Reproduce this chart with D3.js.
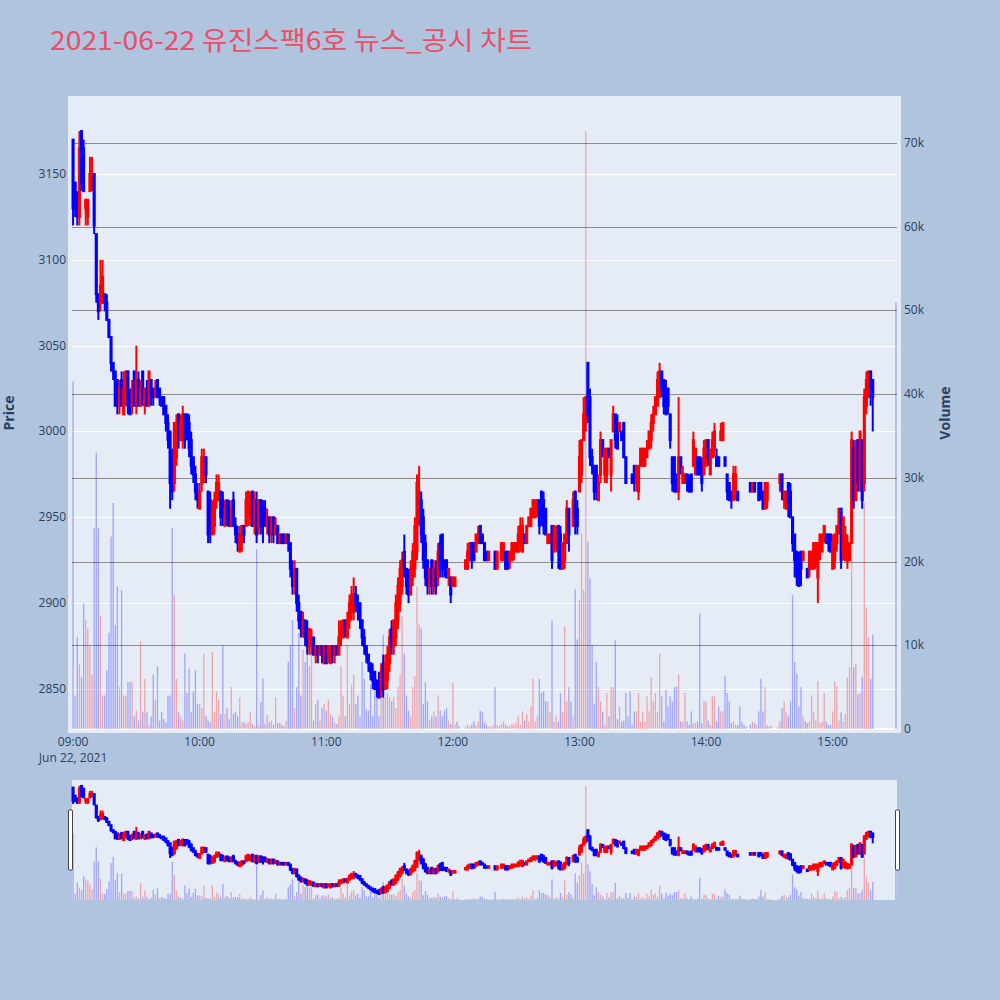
<!DOCTYPE html>
<html><head><meta charset="utf-8">
<script src="https://cdn.jsdelivr.net/npm/d3@7"></script>
<style>body{margin:0;background:#B0C4DE;}svg{display:block}</style>
</head><body>
<svg id="chart" width="1000" height="1000"></svg>
<script>
const chartTitle = "2021-06-22 유진스팩6호 뉴스_공시 차트";
const priceTicks = [2850, 2900, 2950, 3000, 3050, 3100, 3150];
const volumeTicks = [0, 10000, 20000, 30000, 40000, 50000, 60000, 70000];
const hourTicks = ["09:00", "10:00", "11:00", "12:00", "13:00", "14:00", "15:00"];
const dateLabel = "Jun 22, 2021";
// one entry per minute from 09:00 to 15:19, then the 15:30 closing auction
const opens = [
3170,3145,3135,3125,3175,3165,3130,3125,3140,3145, 3150,3115,3080,3075,3075,3080,3075,3065,3055,3040,
3035,3030,3015,3030,3010,3020,3035,3020,3015,3035, 3015,3030,3015,3035,3015,3025,3015,3030,3025,3020,
3030,3025,3020,3020,3015,3005,3000,2985,2970,2985, 3010,2995,2995,3010,3010,3005,2995,2985,2975,2965,
2955,2970,2975,2985,2965,2960,2940,2945,2960,2960, 2965,2960,2945,2960,2955,2945,2960,2945,2940,2930,
2935,2945,2945,2950,2950,2965,2945,2960,2945,2960, 2955,2955,2945,2950,2940,2950,2940,2945,2935,2940,
2940,2935,2940,2935,2920,2910,2920,2900,2895,2885, 2890,2885,2875,2875,2880,2870,2875,2870,2875,2865,
2875,2870,2865,2875,2870,2875,2870,2880,2880,2890, 2880,2890,2895,2895,2905,2900,2900,2890,2880,2875,
2870,2865,2860,2860,2855,2855,2850,2865,2850,2855, 2865,2885,2875,2880,2890,2900,2910,2930,2920,2915,
2905,2915,2920,2930,2950,2960,2950,2935,2925,2910, 2925,2910,2920,2915,2935,2940,2925,2925,2915,2915,
2910,2910,2910,2910,null,null,2920,2920,2925,2935, 2935,2930,2935,2945,2940,2935,2930,2925,2930,2930,
2930,2920,2930,2925,2925,2930,2930,2925,2925,2930, 2930,2930,2935,2930,2940,2935,2945,2945,2950,2950,
2955,2960,2965,2960,2955,2935,2935,2945,2930,2935, 2945,2940,2920,2925,2935,2955,2940,2945,2965,2955,
2965,2975,2995,3005,3040,3020,2985,2980,2980,2960, 2975,2995,2975,2975,2990,2975,3000,3010,3005,3000,
3000,3005,2985,2970,2970,2975,2980,2970,2965,2980, 2980,2980,2985,2990,2995,3005,3010,3015,3020,3035,
3030,3025,3025,3010,2985,2985,2975,2965,2985,2970, 2970,2975,2970,2975,2980,2975,2985,2985,2980,2975,
2980,2995,2975,2985,2990,2985,2985,2995,2995,2985, 2975,2970,2965,2960,2965,2965,2960,2960,2960,2960,
null,2970,2965,2970,2970,2970,2970,2965,2955,2960, 2970,2970,null,null,2975,2970,2975,2960,2955,2970,
2965,2950,2940,2930,2925,2930,2925,2920,2920,2920, 2920,2920,2925,2915,2930,2930,2940,2940,2940,2940,
2920,2925,2935,2945,2955,2930,2925,2925,2925,2935, 2990,2960,2995,2970,2995,2970,3015,3020,3035,3030,
3020];
const highs = [
3170,3145,3140,3175,3175,3170,3135,3135,3160,3160, 3150,3115,3080,3100,3100,3080,3080,3065,3055,3040,
3035,3030,3030,3035,3035,3035,3035,3025,3030,3035, 3050,3035,3030,3035,3025,3030,3035,3030,3025,3030,
3030,3025,3020,3020,3015,3010,3000,2990,3005,3010, 3010,3010,3015,3010,3010,3010,3000,2985,2980,2970,
2970,2990,2990,2985,2965,2965,2960,2965,2975,2975, 2965,2965,2960,2960,2960,2960,2965,2950,2945,2945,
2945,2945,2965,2965,2965,2965,2965,2965,2960,2960, 2960,2960,2955,2950,2950,2950,2950,2945,2940,2940,
2940,2940,2940,2935,2925,2925,2920,2905,2895,2895, 2890,2890,2885,2885,2880,2875,2875,2875,2875,2875,
2875,2875,2875,2875,2875,2875,2890,2890,2890,2890, 2895,2905,2910,2915,2910,2905,2900,2890,2885,2875,
2870,2865,2865,2860,2855,2860,2865,2870,2870,2875, 2885,2890,2890,2905,2915,2925,2930,2940,2920,2920,
2925,2935,2950,2975,2980,2965,2955,2940,2925,2920, 2925,2925,2925,2935,2940,2940,2925,2925,2920,2915,
2915,2915,2910,2910,null,null,2925,2935,2935,2935, 2935,2940,2945,2945,2940,2935,2930,2930,2930,2930,
2930,2930,2930,2935,2935,2930,2930,2930,2935,2935, 2935,2945,2950,2950,2940,2945,2950,2955,2960,2960,
2960,2960,2965,2965,2955,2940,2940,2945,2945,2945, 2945,2945,2935,2940,2960,2955,2940,2965,2965,2960,
2995,2995,3020,3020,3040,3025,2990,2980,2980,2975, 3000,2995,2990,2990,2990,2995,3015,3010,3010,3005,
3000,3005,2985,2970,2970,2975,2980,2980,2980,2990, 2990,2990,2995,3000,3010,3015,3020,3035,3040,3035,
3030,3030,3025,3010,2985,2985,2975,3020,2985,2980, 2975,2975,2975,2975,3000,2990,2985,2985,2985,2995,
2995,2995,2990,3000,3005,2990,2985,3005,3005,2985, 2975,2970,2965,2980,2980,2965,2960,2960,2960,2960,
null,2970,2970,2970,2970,2970,2970,2965,2970,2970, 2970,2970,null,null,2975,2975,2975,2965,2965,2970,
2970,2950,2940,2930,2930,2930,2930,2920,2920,2930, 2930,2935,2935,2935,2940,2940,2945,2940,2940,2940,
2940,2940,2945,2955,2955,2950,2945,2940,2935,3000, 2995,2995,2995,3000,2995,3025,3035,3035,3035,3030,
3020];
const lows = [
3120,3125,3120,3120,3140,3140,3120,3120,3140,3140, 3115,3075,3065,3070,3075,3070,3065,3055,3035,3030,
3015,3010,3010,3015,3010,3015,3010,3010,3010,3015, 3010,3015,3015,3015,3010,3015,3015,3015,3015,3020,
3020,3015,3015,3010,3000,2990,2955,2960,2965,2980, 2990,2995,2990,2990,2995,2985,2975,2970,2960,2955,
2955,2965,2970,2970,2935,2935,2940,2940,2955,2960, 2945,2945,2945,2945,2945,2945,2945,2935,2930,2930,
2930,2935,2945,2945,2945,2945,2940,2935,2940,2940, 2935,2945,2940,2935,2935,2935,2940,2935,2935,2935,
2935,2935,2930,2915,2905,2905,2895,2885,2880,2880, 2875,2870,2870,2870,2870,2865,2865,2870,2865,2865,
2865,2865,2865,2865,2865,2870,2870,2875,2880,2880, 2880,2885,2890,2890,2895,2890,2885,2875,2870,2865,
2860,2855,2850,2850,2845,2845,2845,2845,2850,2850, 2860,2870,2870,2875,2885,2895,2905,2915,2905,2900,
2905,2910,2915,2925,2945,2935,2920,2910,2905,2905, 2905,2905,2905,2910,2915,2915,2915,2915,2910,2900,
2910,2910,2910,2910,null,null,2920,2920,2925,2920, 2925,2930,2935,2935,2935,2925,2925,2925,2930,2930,
2920,2920,2930,2925,2925,2920,2920,2920,2925,2925, 2930,2930,2930,2930,2935,2935,2945,2945,2950,2950,
2950,2940,2945,2940,2940,2935,2935,2920,2930,2930, 2920,2920,2920,2920,2935,2930,2940,2945,2940,2940,
2965,2970,2995,3000,3005,2980,2975,2960,2960,2960, 2970,2985,2970,2970,2985,2965,3000,2990,2990,3000,
2995,2985,2970,2970,2970,2970,2965,2965,2960,2980, 2980,2980,2985,2990,2990,3000,3010,3015,3020,3020,
3010,3010,3010,2990,2965,2965,2965,2960,2975,2970, 2970,2965,2965,2965,2980,2975,2975,2975,2965,2975,
2980,2980,2975,2985,2985,2980,2980,2995,2995,2980, 2960,2960,2955,2960,2960,2960,2960,2960,2960,2960,
null,2965,2965,2965,2970,2960,2960,2955,2955,2955, 2970,2970,null,null,2975,2965,2960,2955,2955,2950,
2950,2930,2915,2910,2910,2910,2925,2920,2915,2915, 2920,2920,2920,2900,2925,2930,2935,2935,2930,2930,
2920,2920,2930,2940,2920,2925,2925,2920,2925,2935, 2955,2960,2965,2965,2955,2965,3010,3020,3015,3000,
3020];
const closes = [
3130,3130,3125,3165,3145,3140,3135,3135,3150,3150, 3120,3080,3070,3085,3090,3075,3065,3055,3040,3035,
3015,3015,3025,3015,3025,3035,3015,3010,3025,3015, 3030,3015,3025,3020,3025,3015,3035,3020,3020,3025,
3020,3020,3015,3010,3005,2995,2970,2965,3005,3005, 2995,3005,3010,2995,3000,2990,2980,2975,2965,2960,
2965,2985,2985,2975,2940,2945,2955,2960,2970,2970, 2950,2950,2955,2950,2945,2955,2945,2940,2935,2940,
2945,2940,2960,2965,2960,2945,2960,2940,2960,2945, 2945,2945,2950,2940,2950,2940,2945,2935,2940,2935,
2935,2940,2935,2920,2910,2920,2900,2890,2885,2890, 2880,2875,2885,2880,2870,2875,2870,2875,2870,2875,
2865,2875,2875,2870,2875,2870,2880,2885,2890,2885, 2890,2900,2905,2905,2900,2895,2890,2880,2875,2870,
2865,2860,2855,2850,2850,2845,2860,2850,2865,2870, 2880,2875,2890,2900,2910,2920,2925,2920,2910,2905,
2920,2930,2945,2970,2965,2940,2925,2915,2910,2920, 2910,2920,2910,2930,2920,2920,2920,2915,2920,2905,
2915,2915,2910,2910,null,null,2925,2930,2935,2925, 2925,2940,2940,2935,2935,2925,2925,2930,2930,2930,
2920,2930,2930,2935,2935,2920,2920,2930,2935,2935, 2935,2940,2945,2945,2935,2945,2950,2955,2960,2960,
2960,2945,2950,2945,2940,2940,2940,2925,2945,2940, 2930,2920,2935,2940,2955,2940,2940,2960,2950,2945,
2985,2995,3010,3020,3010,2985,2980,2965,2965,2970, 2995,2990,2990,2990,2985,2995,3010,2995,2990,3005,
2995,2985,2970,2970,2970,2970,2970,2980,2980,2990, 2990,2990,2990,3000,3005,3010,3020,3030,3035,3025,
3015,3010,3015,2995,2970,2965,2965,2985,2980,2975, 2975,2970,2965,2965,2995,2990,2975,2975,2970,2990,
2995,2985,2985,2995,3000,2980,2980,3000,3005,2980, 2965,2960,2960,2975,2975,2960,2960,2960,2960,2960,
null,2965,2970,2965,2970,2960,2965,2955,2970,2970, 2970,2970,null,null,2975,2975,2965,2965,2965,2960,
2950,2935,2925,2915,2910,2920,2930,2920,2915,2930, 2930,2935,2935,2935,2940,2940,2945,2935,2935,2930,
2935,2940,2945,2955,2925,2950,2940,2935,2935,2995, 2960,2990,2970,3000,2960,3020,3030,3035,3025,3020,
3020];
const volumes = [
41500,4000,11000,7700,6200,15000,13000,12000,10000,6500, 24000,33000,24000,13500,4000,4000,7000,11500,23000,27000,
12400,17000,5000,16600,4000,4000,5600,5600,5600,1500, 2200,1000,10500,2000,6000,2000,500,1500,6500,3500,
7500,1000,2000,1200,800,4000,4000,24000,16000,6000, 2000,1500,1000,9000,4300,7200,2000,4500,7000,3000,
3000,2500,9000,1500,1000,800,9200,2000,4500,3500, 1800,10000,1800,2500,1200,5000,1800,2000,1500,3800,
800,800,600,800,2000,600,400,21500,500,3200, 6000,600,1700,800,1000,500,3800,700,800,500,
300,1000,8000,10000,13000,2500,5000,11500,4000,9500, 8000,13000,7500,10000,1000,3000,3500,1000,2500,3000,
2200,3500,1800,1500,800,600,1500,7500,4000,1500, 10000,3000,5300,6500,3000,4000,1500,8000,6000,2300,
2200,5300,1500,4800,3800,1500,4500,11300,3800,4300, 3800,3300,3800,2500,5000,6500,13500,9000,4000,2200,
1500,5000,6300,17000,12500,12000,3000,5600,3300,1000, 1500,2100,1500,4000,2200,1500,2200,2500,1000,600,
5500,500,900,300,null,null,300,500,300,500, 900,400,900,2200,2000,800,500,300,300,400,
5000,500,400,600,900,500,300,400,600,500, 800,1500,500,2100,1000,1800,900,2700,6000,900,
1500,6000,4300,4500,3300,3300,2000,13000,900,1500, 900,4300,2000,12300,3300,5000,3300,1500,16700,10700,
15400,23400,16600,71400,22400,18000,10000,3000,8000,5000, 3300,2100,500,4300,1500,5000,5000,10600,1200,2700,
900,1000,4300,1500,4500,500,2100,2100,4300,900, 2100,900,3900,2100,6200,3300,4300,2000,9000,3900,
900,4700,2700,3900,3300,5000,5100,6500,900,900, 4300,900,500,2100,700,700,900,13800,700,3300,
3300,1000,500,3900,3900,900,2700,2100,2100,6300, 4300,3300,700,900,500,500,2700,800,500,300,
null,500,900,700,500,2100,6000,2100,5000,500, 300,400,null,null,300,900,2500,3300,2000,1500,
3300,16000,8000,6600,2700,5000,1500,900,700,900, 4000,2000,1000,5700,700,900,4300,900,500,500,
2100,5700,5100,1000,2000,900,1800,6200,7400,35500, 7400,7800,4100,4300,6200,27000,14500,11000,6000,11300,
51000];

const sessionStart = new Date(2021, 5, 22, 9, 0, 0);
const closingAuctionTime = new Date(2021, 5, 22, 15, 30, 0);
const times = closes.map((_, i) => i < closes.length - 1 ? new Date(+sessionStart + i * 60000) : closingAuctionTime);

// build records and direction (plotly-like: equal open/close uses previous close)
const bars = [];
let prevC = null, prevUp = true;
for (let i = 0; i < closes.length; i++) {
  if (closes[i] == null) continue;
  const o = opens[i], c = closes[i];
  let up;
  if (c > o) up = true; else if (c < o) up = false;
  else if (prevC != null && c > prevC) up = true;
  else if (prevC != null && c < prevC) up = false;
  else up = prevUp;
  bars.push({t: times[i], o, h: highs[i], l: lows[i], c, v: volumes[i], up});
  prevC = c; prevUp = up;
}

const svg = d3.select("#chart");
svg.append("rect").attr("width", 1000).attr("height", 1000).attr("fill", "#B0C4DE");

const X0 = 72, X1 = 897, Y0 = 100, Y1 = 729;
const xDomain = [new Date(2021, 5, 22, 8, 59, 30), new Date(2021, 5, 22, 15, 30, 30)];
const x = d3.scaleTime().domain(xDomain).range([X0, X1]);
const yP = d3.scaleLinear().domain([2826.7, 3193.1]).range([Y1, Y0]);
const yV = d3.scaleLinear().domain([0, 75140]).range([Y1, Y0]);

// plot background
svg.append("rect").attr("x", 68).attr("y", 96).attr("width", 833).attr("height", 637).attr("fill", "#E5ECF6");

const tickFont = "'Open Sans', 'DejaVu Sans', sans-serif";
const tickColor = "#2a3f5f";

// price grid (white)
svg.append("g").selectAll("line").data(priceTicks).join("line")
  .attr("x1", X0).attr("x2", X1)
  .attr("y1", d => Math.round(yP(d)) + 0.5).attr("y2", d => Math.round(yP(d)) + 0.5)
  .attr("stroke", "#ffffff").attr("stroke-width", 1);
// volume grid (gray)
svg.append("g").selectAll("line").data(volumeTicks.filter(d => d > 0)).join("line")
  .attr("x1", X0).attr("x2", X1)
  .attr("y1", d => Math.round(yV(d)) + 0.5).attr("y2", d => Math.round(yV(d)) + 0.5)
  .attr("stroke", "#8c8c8c").attr("stroke-width", 1.2);
// zero line
svg.append("line").attr("x1", X0).attr("x2", X1).attr("y1", yV(0)).attr("y2", yV(0))
  .attr("stroke", "#ffffff").attr("stroke-width", 2);

function drawVolume(g, xs, yv, w) {
  g.selectAll("rect").data(bars).join("rect")
    .attr("x", d => xs(d.t) - w / 2)
    .attr("width", w)
    .attr("y", d => yv(d.v))
    .attr("height", d => yv(0) - yv(d.v))
    .attr("fill", d => d.up ? "rgba(255,0,0,0.3)" : "rgba(0,0,255,0.3)");
}
function drawCandles(g, xs, yp, bodyW, lw) {
  const gg = g.selectAll("g").data(bars).join("g");
  gg.append("line")
    .attr("x1", d => xs(d.t)).attr("x2", d => xs(d.t))
    .attr("y1", d => yp(d.h)).attr("y2", d => yp(d.l))
    .attr("stroke", d => d.up ? "#FF0000" : "#0000FF").attr("stroke-width", lw);
  gg.append("rect")
    .attr("x", d => xs(d.t) - bodyW / 2).attr("width", bodyW)
    .attr("y", d => yp(Math.max(d.o, d.c)))
    .attr("height", d => Math.max(0, yp(Math.min(d.o, d.c)) - yp(Math.max(d.o, d.c))))
    .attr("fill", d => d.up ? "#FF0000" : "#0000FF")
    .attr("stroke", d => d.up ? "#FF0000" : "#0000FF").attr("stroke-width", lw);
}

drawVolume(svg.append("g"), x, yV, 1.3);
drawCandles(svg.append("g"), x, yP, 1.1, 2);

// left axis labels
svg.append("g").selectAll("text").data(priceTicks).join("text")
  .attr("x", 66).attr("y", d => yP(d) + 4)
  .attr("text-anchor", "end").attr("font-family", tickFont).attr("font-size", 12).attr("fill", tickColor)
  .text(d => d);
// right axis labels
const fmtK = d => d === 0 ? "0" : (d / 1000) + "k";
svg.append("g").selectAll("text").data(volumeTicks).join("text")
  .attr("x", 904).attr("y", d => yV(d) + 4)
  .attr("text-anchor", "start").attr("font-family", tickFont).attr("font-size", 12).attr("fill", tickColor)
  .text(fmtK);
// x axis labels
const hourDates = hourTicks.map(s => { const [h, m] = s.split(":").map(Number); return new Date(2021, 5, 22, h, m); });
svg.append("g").selectAll("text").data(hourDates).join("text")
  .attr("x", d => x(d)).attr("y", 746)
  .attr("text-anchor", "middle").attr("font-family", tickFont).attr("font-size", 12).attr("fill", tickColor)
  .text(d => d3.timeFormat("%H:%M")(d));
svg.append("text").attr("x", x(hourDates[0])).attr("y", 762)
  .attr("text-anchor", "middle").attr("font-family", tickFont).attr("font-size", 12).attr("fill", tickColor)
  .text(dateLabel);

// axis titles
svg.append("text").attr("transform", "translate(14,413) rotate(-90)")
  .attr("text-anchor", "middle").attr("font-family", tickFont).attr("font-size", 14).attr("font-weight", "bold")
  .attr("fill", tickColor).text("Price");
svg.append("text").attr("transform", "translate(950,413) rotate(-90)")
  .attr("text-anchor", "middle").attr("font-family", tickFont).attr("font-size", 14).attr("font-weight", "bold")
  .attr("fill", tickColor).text("Volume");

// title
svg.append("text").attr("x", 50).attr("y", 50)
  .attr("font-family", "'Noto Sans CJK KR', 'Noto Sans', sans-serif").attr("font-size", 26)
  .attr("fill", "#E8506A").attr("textLength", 482).attr("lengthAdjust", "spacingAndGlyphs")
  .text(chartTitle);

// range slider
const RS0 = 780, RS1 = 900;
svg.append("rect").attr("x", X0).attr("y", RS0).attr("width", X1 - X0).attr("height", RS1 - RS0).attr("fill", "#E5ECF6");
const yPm = d3.scaleLinear().domain(yP.domain()).range([RS1, RS0]);
const yVm = d3.scaleLinear().domain(yV.domain()).range([RS1, RS0]);
drawVolume(svg.append("g"), x, yVm, 1.3);
drawCandles(svg.append("g"), x, yPm, 1.1, 2);
[X0 - 2, X1].forEach(hx => {
  svg.append("rect").attr("x", hx - 1.5).attr("y", 810).attr("width", 4).attr("height", 60)
    .attr("rx", 1).attr("fill", "#ffffff").attr("stroke", "#444").attr("stroke-width", 1);
});
</script>
</body></html>
